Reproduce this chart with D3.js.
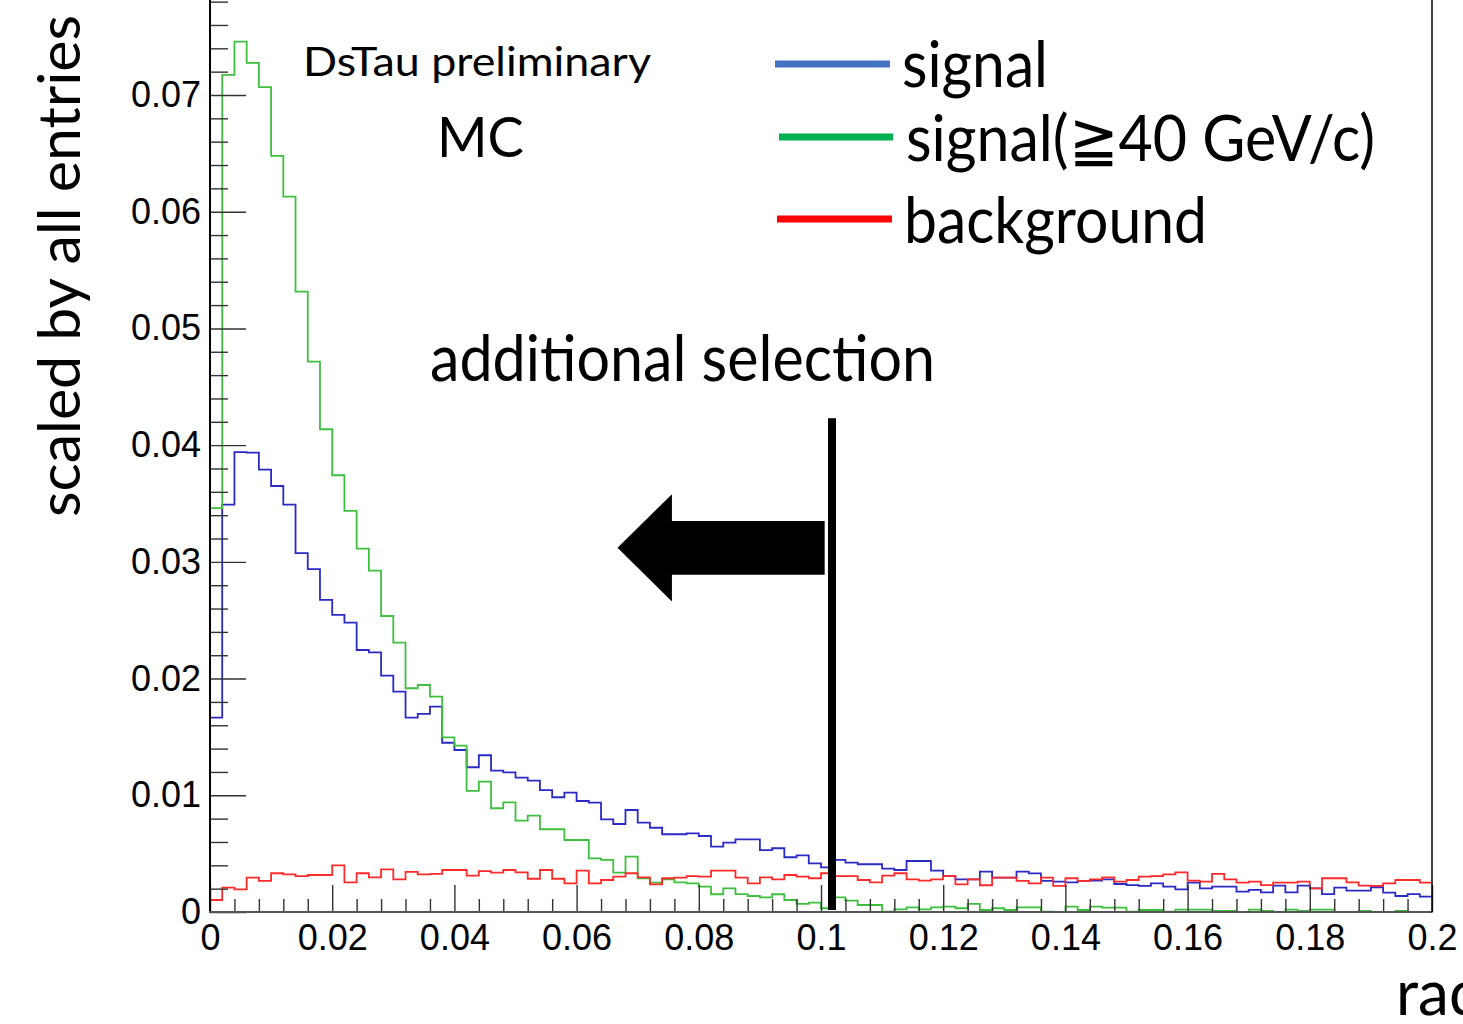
<!DOCTYPE html>
<html>
<head>
<meta charset="utf-8">
<script src="https://cdn.jsdelivr.net/npm/d3@7"></script>
<style>
  html, body { margin: 0; padding: 0; background: #ffffff; overflow: hidden; }
  svg { display: block; }
</style>
</head>
<body>
<svg id="chart" width="1463" height="1024"></svg>
<script>
// ---------------- data ----------------
const binWidth = 0.002;
const signal = [
  0.01665, 0.0349, 0.0394, 0.03936, 0.0379, 0.0365, 0.0349, 0.03074, 0.02937, 0.02674,
  0.02545, 0.02479, 0.02245, 0.02225, 0.02025, 0.01888, 0.01665, 0.01697, 0.0176, 0.0145,
  0.01388, 0.0124, 0.01343, 0.01211, 0.01197, 0.01151, 0.01125, 0.01045, 0.00983, 0.01022,
  0.00951, 0.00937, 0.00794, 0.00754, 0.00874, 0.00765, 0.00722, 0.00666, 0.00666, 0.00674,
  0.00651, 0.0056, 0.00594, 0.00623, 0.00623, 0.00531, 0.00546, 0.00469, 0.00486, 0.00417,
  0.00383, 0.00446, 0.00423, 0.00409, 0.00409, 0.00371, 0.0036, 0.00437, 0.00437, 0.00354,
  0.00308, 0.0028, 0.0028, 0.00346, 0.00294, 0.00294, 0.00346, 0.00331, 0.00266, 0.0026,
  0.00254, 0.00266, 0.0027, 0.0028, 0.0024, 0.00231, 0.00223, 0.00246, 0.00217, 0.00194,
  0.00251, 0.00203, 0.00217, 0.00217, 0.00174, 0.00189, 0.00169, 0.00226, 0.00169, 0.00226,
  0.00203, 0.00154, 0.00208, 0.00183, 0.00183, 0.00212, 0.00166, 0.00137, 0.00154, 0.00131
];
const signalHighP = [
  0.0346, 0.07172, 0.07458, 0.07275, 0.07067, 0.06478, 0.0613, 0.05315, 0.04716, 0.04136,
  0.03742, 0.03436, 0.03113, 0.02925, 0.02536, 0.02308, 0.01917, 0.01945, 0.01845, 0.01497,
  0.01425, 0.01037, 0.01117, 0.00889, 0.0094, 0.00783, 0.00826, 0.00709, 0.00709, 0.00617,
  0.00617, 0.0046, 0.00446, 0.00337, 0.00474, 0.00289, 0.00251, 0.0028, 0.00254, 0.00246,
  0.00217, 0.00152, 0.00203, 0.00154, 0.00137, 0.00126, 0.00152, 0.00103, 0.00069, 0.0008,
  0.00032, 0.00126, 0.00097, 0.0006, 0.0006, 0.00003, 0.00023, 0.0004, 0.00023, 0.0004,
  0.00046, 0.00032, 0.00069, 0.00017, 0.00032, 0.00017, 0.0004, 0.0004, 0.00003, 0.0,
  0.00046, 0.00017, 0.00046, 0.00037, 0.00037, 0.00003, 0.00017, 0.00017, 0.00003, 0.0002,
  0.0002, 0.0002, 0.0001, 0.0001, 0.0, 0.0002, 0.0001, 0.0, 0.0002, 0.0001,
  0.0002, 0.0002, 0.0, 0.0, 0.0001, 0.0, 0.0, 0.0001, 0.0, 0.0
];
const background = [
  0.00103, 0.00208, 0.00194, 0.00294, 0.00266, 0.00332, 0.00323, 0.00308, 0.00317, 0.00317,
  0.004, 0.00254, 0.00332, 0.00297, 0.00366, 0.0028, 0.00343, 0.00323, 0.00326, 0.0036,
  0.0036, 0.00311, 0.00351, 0.00337, 0.0036, 0.0034, 0.00285, 0.0036, 0.00285, 0.00246,
  0.00354, 0.00246, 0.00274, 0.00303, 0.00332, 0.00297, 0.00237, 0.00289, 0.00294, 0.00308,
  0.00303, 0.00354, 0.00354, 0.00294, 0.00246, 0.00297, 0.0028, 0.00317, 0.00303, 0.00289,
  0.00332, 0.00308, 0.00308, 0.00274, 0.00254, 0.00311, 0.00332, 0.0028, 0.00268, 0.0028,
  0.00308, 0.00237, 0.0028, 0.00229, 0.00294, 0.00294, 0.00266, 0.00246, 0.00294, 0.00223,
  0.00289, 0.00266, 0.0028, 0.00297, 0.0026, 0.00274, 0.00303, 0.00308, 0.00323, 0.0034,
  0.00268, 0.0026, 0.00326, 0.0028, 0.00251, 0.0026, 0.00231, 0.00251, 0.00251, 0.0026,
  0.00203, 0.00289, 0.00289, 0.00254, 0.00226, 0.00223, 0.00246, 0.00274, 0.00274, 0.00251
];
const xTickLabels = [0, 0.02, 0.04, 0.06, 0.08, 0.1, 0.12, 0.14, 0.16, 0.18, 0.2];
const yTickLabels = [0, 0.01, 0.02, 0.03, 0.04, 0.05, 0.06, 0.07];
const legendLabels = ["signal", "signal(\u226740 GeV/c)", "background"];
// cut annotation (data units)
const cutValue = 0.1018;
const cutRange = [0.00017, 0.0423];
const arrowX = [0.0667, 0.0756, 0.1006];          // tip, head back, shaft end
const arrowY = [0.0312, 0.0358, 0.0266, 0.0335, 0.0289]; // tip, head top, head bottom, shaft top, shaft bottom

// ---------------- layout ----------------
const svg = d3.select("#chart");
const x = d3.scaleLinear().domain([0, 0.2]).range([210, 1432]);
const y = d3.scaleLinear().domain([0, 0.07]).range([912, 95]);
const yTop = y.invert(-25);

const labelFont = "'Liberation Sans', Arial, Helvetica, sans-serif";
const textFont = "Lato, 'Open Sans', sans-serif";

// histograms
const edges = d3.range(101).map(i => i * binWidth);
function stepPath(vals) {
  const pts = vals.map((v, i) => [x(edges[i]), y(v)]);
  pts.push([x(edges[vals.length]), y(vals[vals.length - 1])]);
  return d3.line().curve(d3.curveStepAfter)(pts);
}
const g = svg.append("g");
g.append("path").attr("d", stepPath(signal)).attr("fill", "none")
  .attr("stroke", "#2a2ac4").attr("stroke-width", 1.8);
g.append("path").attr("d", stepPath(signalHighP)).attr("fill", "none")
  .attr("stroke", "#3fbf3f").attr("stroke-width", 1.8);
g.append("path").attr("d", stepPath(background)).attr("fill", "none")
  .attr("stroke", "#ff2a2a").attr("stroke-width", 1.8);

// axes
const yMinor = d3.range(0, yTop, 0.002).filter(v => Math.abs(Math.round(v / 0.01) * 0.01 - v) > 1e-6);
const xMinor = d3.range(0, 0.2001, 0.004).filter(v => Math.abs(Math.round(v / 0.02) * 0.02 - v) > 1e-6);

const yAxisG = svg.append("g").attr("transform", "translate(210,0)");
yAxisG.call(d3.axisLeft(y).tickValues(yMinor).tickSize(-18).tickFormat(""));
yAxisG.call(g2 => g2.select(".domain").remove());
const yAxisMajor = svg.append("g").attr("transform", "translate(210,0)")
  .call(d3.axisLeft(y).tickValues(yTickLabels).tickSize(-36).tickPadding(9)
        .tickFormat(d => d === 0 ? "0" : d3.format(".2f")(d)));
yAxisMajor.select(".domain").remove();

const xAxisMinorG = svg.append("g").attr("transform", "translate(0,912)")
  .call(d3.axisBottom(x).tickValues(xMinor).tickSize(-13).tickFormat(""));
xAxisMinorG.select(".domain").remove();
const xAxisMajor = svg.append("g").attr("transform", "translate(0,912)")
  .call(d3.axisBottom(x).tickValues(xTickLabels).tickSize(-27).tickPadding(12)
        .tickFormat(d => d === 0 ? "0" : (d === 0.1 || d === 0.2 ? String(d) : d3.format(".2f")(d))));
xAxisMajor.select(".domain").remove();

svg.selectAll(".tick line").attr("stroke", "#333").attr("stroke-width", 1.4);
svg.selectAll(".tick text").attr("font-family", labelFont).attr("font-size", 36).attr("fill", "#000");

// frame
svg.append("line").attr("x1", 210).attr("x2", 210).attr("y1", y(yTop)).attr("y2", 912.5)
  .attr("stroke", "#000").attr("stroke-width", 2);
svg.append("line").attr("x1", 209).attr("x2", 1432).attr("y1", 912).attr("y2", 912)
  .attr("stroke", "#555").attr("stroke-width", 2);
svg.append("line").attr("x1", 1432).attr("x2", 1432).attr("y1", y(yTop)).attr("y2", 912.5)
  .attr("stroke", "#000").attr("stroke-width", 1.5);

// axis titles
svg.append("text").attr("transform", "translate(80,517) rotate(-90)")
  .attr("font-family", textFont).attr("font-size", 58).attr("fill", "#000")
  .attr("textLength", 502).attr("lengthAdjust", "spacingAndGlyphs")
  .text("scaled by all entries");
svg.append("text").attr("x", 1396).attr("y", 1015)
  .attr("font-family", textFont).attr("font-size", 62).attr("fill", "#000")
  .text("rad");

// annotations
svg.append("text").attr("x", 303).attr("y", 76)
  .attr("font-family", textFont).attr("font-size", 41).attr("fill", "#000")
  .attr("textLength", 348).attr("lengthAdjust", "spacingAndGlyphs")
  .text("DsTau preliminary");
svg.append("text").attr("x", 437).attr("y", 157)
  .attr("font-family", textFont).attr("font-size", 56).attr("fill", "#000")
  .attr("textLength", 87).attr("lengthAdjust", "spacingAndGlyphs")
  .text("MC");
svg.append("text").attr("x", 430).attr("y", 381)
  .attr("font-family", textFont).attr("font-size", 63).attr("fill", "#000")
  .attr("textLength", 505).attr("lengthAdjust", "spacingAndGlyphs")
  .text("additional selection");

// cut line and arrow
svg.append("line").attr("x1", x(cutValue)).attr("x2", x(cutValue))
  .attr("y1", y(cutRange[1])).attr("y2", y(cutRange[0]))
  .attr("stroke", "#000").attr("stroke-width", 8);
const arrowPts = [
  [arrowX[0], arrowY[0]], [arrowX[1], arrowY[1]], [arrowX[1], arrowY[3]],
  [arrowX[2], arrowY[3]], [arrowX[2], arrowY[4]], [arrowX[1], arrowY[4]],
  [arrowX[1], arrowY[2]]
].map(p => [x(p[0]), y(p[1])]);
svg.append("polygon").attr("points", arrowPts.map(p => p.join(",")).join(" ")).attr("fill", "#000");

// legend
const legendColors = ["#4472c4", "#00b050", "#ff0000"];
const legendLineX = [[775, 890], [779, 893], [777, 892]];
const legendLineY = [64, 137, 219];
const legendTextX = [902, 906, 904];
const legendTextY = [87, 161, 243];
const legendTextW = [146, 469, 303];
legendLabels.forEach((lab, i) => {
  svg.append("line").attr("x1", legendLineX[i][0]).attr("x2", legendLineX[i][1])
    .attr("y1", legendLineY[i]).attr("y2", legendLineY[i])
    .attr("stroke", legendColors[i]).attr("stroke-width", 7);
  svg.append("text").attr("x", legendTextX[i]).attr("y", legendTextY[i])
    .attr("font-family", textFont).attr("font-size", 64).attr("fill", "#000")
    .attr("textLength", legendTextW[i]).attr("lengthAdjust", "spacingAndGlyphs")
    .text(lab);
});
</script>
</body>
</html>
